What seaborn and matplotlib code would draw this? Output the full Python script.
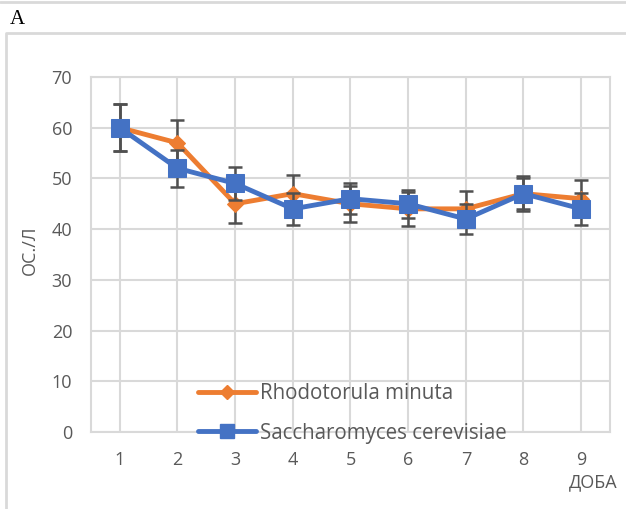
import matplotlib
matplotlib.use("Agg")
import matplotlib.pyplot as plt
from matplotlib.lines import Line2D
import seaborn as sns
import pandas as pd
import numpy as np

days = [1, 2, 3, 4, 5, 6, 7, 8, 9]
rhodo = [60, 57, 45, 47, 45, 44, 44, 47, 46]
rhodo_err = [4.6, 4.5, 3.7, 3.6, 3.5, 3.4, 3.5, 3.0, 3.6]
sacch = [60, 52, 49, 44, 46, 45, 42, 47, 44]
sacch_err = [4.6, 3.6, 3.3, 3.2, 3.0, 2.8, 3.0, 3.4, 3.2]
series_names = ["Rhodotorula minuta", "Saccharomyces cerevisiae"]
y_ticks = [0, 10, 20, 30, 40, 50, 60, 70]

df = pd.DataFrame({
    "day": days * 2,
    "value": rhodo + sacch,
    "err": rhodo_err + sacch_err,
    "series": [series_names[0]] * len(days) + [series_names[1]] * len(days),
})

sns.set_theme(style="white")
plt.rcParams['font.family'] = ['Open Sans', 'DejaVu Sans']

fig = plt.figure(figsize=(6.26, 5.09), dpi=100)
ax = fig.add_axes([91 / 626, 1 - 432 / 509, (610 - 91) / 626, (432 - 77) / 509])

colors = {series_names[0]: "#ED7D31", series_names[1]: "#4472C4"}
markers = {series_names[0]: "D", series_names[1]: "s"}
msizes = {series_names[0]: 8, series_names[1]: 12.5}

for i, name in enumerate(series_names):
    sub = df[df["series"] == name]
    ax.errorbar(sub["day"], sub["value"], yerr=sub["err"], fmt="none",
                ecolor="#505050", elinewidth=1.8, capsize=5, capthick=1.8,
                zorder=3 + 2 * i)
    sns.lineplot(data=sub, x="day", y="value", ax=ax, color=colors[name],
                 marker=markers[name], markersize=msizes[name],
                 markeredgecolor=colors[name], linewidth=3.5,
                 zorder=4 + 2 * i, legend=False)

ax.set_xlim(0.5, 9.5)
ax.set_ylim(0, 70)
ax.set_yticks(y_ticks)
ax.set_xticks(days)
ax.grid(True, color="#d9d9d9", linewidth=1.5)
ax.set_axisbelow(True)
for s in ax.spines.values():
    s.set_color("#d9d9d9")
    s.set_linewidth(1.5)
ax.tick_params(axis="both", length=0, labelsize=13, labelcolor="#595959")
ax.tick_params(axis="y", pad=13.5)
ax.tick_params(axis="x", pad=14)
ax.set_xlabel("")
ax.set_ylabel("")

handles = [Line2D([0], [0], color=colors[n], marker=markers[n],
                  markersize=msizes[n] * (0.9 if n == series_names[0] else 0.75),
                  linewidth=3.5) for n in series_names]
leg = ax.legend(handles, series_names, loc="lower left",
                bbox_to_anchor=(0.171, -0.085), frameon=False,
                prop={"size": 14.8},
                labelcolor="#595959", handlelength=2.8, labelspacing=0.9,
                handletextpad=0.2)
leg.set_zorder(10)

fig.text(30 / 626, 1 - 250 / 509, "ОС./Л", rotation=90, ha="center", va="center",
         fontsize=13, color="#595959")
fig.text(593 / 626, 1 - 482 / 509, "ДОБА", ha="center", va="center",
         fontsize=13, color="#595959")
fig.text(10 / 626, 1 - 20 / 509, "A", ha="left", va="center",
         fontsize=15, color="black", family=["Liberation Serif"])

fig.add_artist(Line2D([0, 1], [1 - 2 / 509, 1 - 2 / 509], color="#d9d9d9", linewidth=2,
                      transform=fig.transFigure))
fig.add_artist(Line2D([6 / 626, 6 / 626, 1], [0, 1 - 33 / 509, 1 - 33 / 509],
                      color="#d9d9d9", linewidth=2, transform=fig.transFigure))

fig.savefig("out.png", dpi=100)
